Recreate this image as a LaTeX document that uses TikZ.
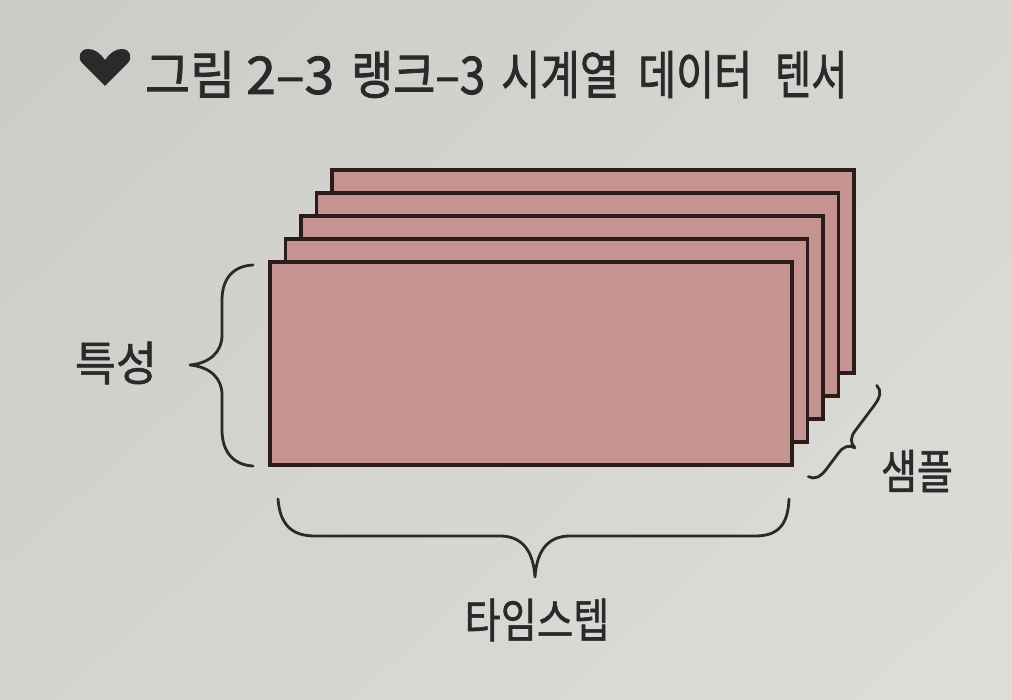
\documentclass[tikz,border=0pt]{standalone}
\usepackage{fontspec}
\usetikzlibrary{shadings}
\newfontfamily\kr[FakeBold=1.6]{Noto Sans CJK KR}
\newfontfamily\krl[FakeBold=1.2]{Noto Sans CJK KR}
\definecolor{bgA}{HTML}{D3D3CF}
\definecolor{bgB}{HTML}{DEDDD9}
\definecolor{bgC}{HTML}{CBCBC7}
\definecolor{bgD}{HTML}{D6D6D2}
\definecolor{sheetfill}{HTML}{C59491}
\definecolor{sheetline}{HTML}{2B1B1B}
\definecolor{ink}{HTML}{2A2A2A}
\tikzset{
  sheet/.style={draw=sheetline, fill=sheetfill, line width=3.6pt, anchor=north west,
    minimum width=522pt, minimum height=203pt, inner sep=0pt, outer sep=0pt},
  bracepath/.style={draw=ink, line width=2.8pt, line cap=round, line join=round},
  lbl/.style={text=ink, font=\krl\fontsize{47}{50}\selectfont, inner sep=0pt},
  ttl/.style={text=ink, font=\kr\fontsize{52}{56}\selectfont, inner sep=0pt, anchor=base west},
}
\newcommand{\fitw}[2]{\resizebox{#1pt}{\height}{#2}}
\begin{document}
\begin{tikzpicture}[x=1pt,y=-1pt]
\shade[upper left=bgC, upper right=bgD, lower left=bgA, lower right=bgB] (0,0) rectangle (1012,700);
\useasboundingbox (0,0) rectangle (1012,700);
% title
\fill[ink] (105,86) -- (82,63) .. controls (77,57) and (80,49) .. (88,49)
  .. controls (95,49) and (100,53) .. (105,60)
  .. controls (110,53) and (115,49) .. (122,49)
  .. controls (130,49) and (133,57) .. (128,63) -- cycle;
\node[ttl] (t1) at (145,94) {\fitw{90}{그림}};
\node[ttl] (t2) at (246,94) {\fitw{88}{2–3}};
\node[ttl] (t3) at (351,94) {\fitw{134}{랭크–3}};
\node[ttl] (t4) at (501,94) {\fitw{118}{시계열}};
\node[ttl] (t5) at (638,94) {\fitw{114}{데이터}};
\node[ttl] (t6) at (775,94) {\fitw{72}{텐서}};
% stacked sheets
\node[sheet] (s0) at (332,170) {};
\node[sheet] (s1) at (316.5,193) {};
\node[sheet] (s2) at (301,216) {};
\node[sheet] (s3) at (285.5,239) {};
\node[sheet] (s4) at (270,262) {};
% left brace
\path[bracepath] (253,265) .. controls (232,266) and (222,280) .. (222,300) -- (222,335)
  .. controls (222,352) and (210,363) .. (190,365)
  .. controls (210,367) and (222,378) .. (222,395) -- (222,430)
  .. controls (222,450) and (232,465) .. (253,466);
% bottom brace
\path[bracepath] (278,499) .. controls (280,525) and (292,536) .. (315,536) -- (500,536)
  .. controls (520,536) and (533,548) .. (535,577)
  .. controls (537,548) and (550,536) .. (570,536) -- (755,536)
  .. controls (778,536) and (788,525) .. (789,499);
% diagonal brace
\path[bracepath] (808.3,476.6) .. controls (814.5,480) and (820.5,477) .. (826.5,469) -- (838.5,453)
  .. controls (843.3,446.6) and (848.7,444.4) .. (854.9,447.8)
  .. controls (849.9,442.8) and (850.5,437) .. (855.3,430.6) -- (874.5,405)
  .. controls (880.5,397) and (881.7,390.4) .. (876.7,385.4);
% labels
\node[lbl] (feat) at (116,363) {\fitw{82}{특성}};
\node[lbl] (samp) at (917,471) {\fitw{72}{샘플}};
\node[lbl] (time) at (537,620) {\fitw{145}{타임스텝}};
\end{tikzpicture}
\end{document}
